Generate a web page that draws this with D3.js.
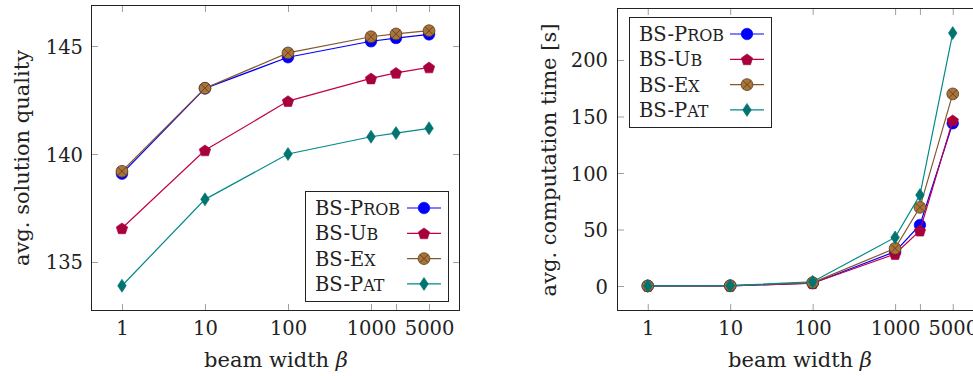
<!DOCTYPE html>
<html><head><meta charset="utf-8">
<script src="https://cdn.jsdelivr.net/npm/d3@7"></script>
<style>
html,body{margin:0;padding:0;background:#fff;}
svg{display:block;}
</style></head>
<body>
<svg id="c" width="973" height="376"></svg>
<script>
// ---- data ----
const beamWidths = [1, 10, 100, 1000, 2000, 5000];
const xTickValues = [1, 10, 100, 1000, 2000, 5000];
const xTickLabels = ["1", "10", "100", "1000", "", "5000"];
const seriesNames = ["BS-Prob", "BS-Ub", "BS-Ex", "BS-Pat"];

const qualityProb = [139.09, 143.04, 144.48, 145.22, 145.37, 145.54];
const qualityUb   = [136.56, 140.17, 142.45, 143.50, 143.76, 144.01];
const qualityEx   = [139.20, 143.05, 144.68, 145.43, 145.56, 145.71];
const qualityPat  = [133.90, 137.90, 140.00, 140.80, 140.97, 141.19];
const qualityTicks = [135, 140, 145];

const timeProb = [0.1, 0.2, 2.5, 30.4, 54.0, 144.0];
const timeUb   = [0.1, 0.2, 2.5, 28.3, 49.0, 146.6];
const timeEx   = [0.1, 0.3, 3.0, 33.3, 69.6, 170.0];
const timePat  = [0.1, 0.3, 3.8, 43.0, 80.5, 223.8];
const timeTicks = [0, 50, 100, 150, 200];

// ---- styles ----
const FONT = "DejaVu Serif";
const FS_TICK = "19.5px";
const FS_TITLE = "21px";
const TXT = "#222";
const styles = [
  {line:"#0000ff", fill:"#0000ff", stroke:"#0000ee", mark:"circle"},
  {line:"#c0004a", fill:"#a8003c", stroke:"#a8003c", mark:"pentagon"},
  {line:"#85572c", fill:"#a8743a", stroke:"#5b3a1a", mark:"otimes"},
  {line:"#008a86", fill:"#007470", stroke:"#007470", mark:"diamond"}
];

const svg = d3.select("#c");

function drawMarker(g, type, st) {
  if (type === "circle") {
    g.append("circle").attr("r", 5.8).attr("fill", st.fill).attr("stroke", st.stroke).attr("stroke-width", 0.6);
  } else if (type === "pentagon") {
    const r = 6;
    const pts = d3.range(5).map(i => {
      const a = -Math.PI/2 + i*2*Math.PI/5;
      return [r*Math.cos(a), r*Math.sin(a)+0.6];
    });
    g.append("polygon").attr("points", pts.map(p=>p.join(",")).join(" "))
      .attr("fill", st.fill).attr("stroke", st.stroke).attr("stroke-width", 0.6);
  } else if (type === "otimes") {
    const r = 5.9;
    g.append("circle").attr("r", r).attr("fill", st.fill).attr("stroke", st.stroke).attr("stroke-width", 0.8);
    const k = r*0.7;
    g.append("path").attr("d", `M${-k},${-k}L${k},${k}M${-k},${k}L${k},${-k}`)
      .attr("stroke", st.stroke).attr("stroke-width", 0.8);
  } else if (type === "diamond") {
    g.append("polygon").attr("points", "0,-6.5 4.3,0 0,6.5 -4.3,0")
      .attr("fill", st.fill).attr("stroke", st.stroke).attr("stroke-width", 0.6);
  }
}

function panel(cfg) {
  const x = d3.scaleLog().domain([Math.pow(10,-0.373), Math.pow(10,4.072)]).range([cfg.left, cfg.right]);
  const y = d3.scaleLinear().domain(cfg.yDomain).range([311, cfg.top]);
  const g = svg.append("g");
  const cid = "clip" + cfg.id;
  svg.append("clipPath").attr("id", cid).append("rect")
    .attr("x", cfg.left).attr("y", cfg.top).attr("width", cfg.right - cfg.left).attr("height", 311 - cfg.top);

  // axes (ticks inward)
  const axB = d3.axisBottom(x).tickValues(xTickValues).tickFormat((d,i)=>xTickLabels[i]).tickSizeInner(-7).tickSizeOuter(0);
  const axT = d3.axisTop(x).tickValues(xTickValues).tickFormat("").tickSizeInner(-7).tickSizeOuter(0);
  const axL = d3.axisLeft(y).tickValues(cfg.yTicks).tickFormat(d3.format("d")).tickSizeInner(-7).tickSizeOuter(0);
  const axR = d3.axisRight(y).tickValues(cfg.yTicks).tickFormat("").tickSizeInner(-7).tickSizeOuter(0);

  const gB = g.append("g").attr("transform", `translate(0,311)`).call(axB);
  const gT = g.append("g").attr("transform", `translate(0,${cfg.top})`).call(axT);
  const gL = g.append("g").attr("transform", `translate(${cfg.left},0)`).call(axL);
  const gR = g.append("g").attr("transform", `translate(${cfg.right},0)`).call(axR);
  [gB,gT,gL,gR].forEach(a => {
    a.select(".domain").remove();
    a.selectAll(".tick line").attr("stroke", "#a0a0a0").attr("stroke-width", 1);
    a.attr("font-size", FS_TICK).attr("font-family", FONT);
  });
  gB.selectAll(".tick text").attr("y", 24).attr("dy", 0).attr("fill", TXT);
  gL.selectAll(".tick text").attr("x", cfg.yLabelX - cfg.left).attr("dy", 7).attr("fill", TXT);

  // frame
  g.append("rect").attr("x", cfg.left + 0.5).attr("y", cfg.top + 0.5)
    .attr("width", cfg.right - cfg.left - 1).attr("height", 311 - cfg.top - 1)
    .attr("fill", "none").attr("stroke", "#222").attr("stroke-width", 1);

  // series
  const plot = g.append("g").attr("clip-path", `url(#${cid})`);
  const line = d3.line().x((d,i)=>x(beamWidths[i])).y(d=>y(d));
  cfg.series.forEach((vals, si) => {
    const st = styles[si];
    plot.append("path").attr("d", line(vals)).attr("fill", "none").attr("stroke", st.line).attr("stroke-width", 1.2);
    vals.forEach((v, i) => {
      const mg = plot.append("g").attr("transform", `translate(${x(beamWidths[i])},${y(v)})`);
      drawMarker(mg, st.mark, st);
    });
  });

  // axis labels
  const xl = g.append("text").attr("x", cfg.xLabelX).attr("y", 367).attr("text-anchor", "middle")
    .attr("font-size", FS_TITLE).attr("font-family", FONT).attr("fill", TXT);
  xl.append("tspan").text("beam width ");
  xl.append("tspan").attr("font-style", "italic").text("β");
  g.append("text").attr("transform", `translate(${cfg.yTitleX},${cfg.yTitleY}) rotate(-90)`)
    .attr("text-anchor", "middle").attr("font-size", FS_TITLE).attr("font-family", FONT).attr("fill", TXT).text(cfg.yTitle);

  // legend
  const L = cfg.legend;
  const lg = g.append("g");
  lg.append("rect").attr("x", L.x + 0.5).attr("y", L.y + 0.5).attr("width", L.w).attr("height", L.h)
    .attr("fill", "#fff").attr("stroke", "#222").attr("stroke-width", 1);
  seriesNames.forEach((name, si) => {
    const cy = L.y + 17 + si * 25.3;
    const st = styles[si];
    const [pre, rest] = name.split("-");
    const t = lg.append("text").attr("x", L.x + 10).attr("y", cy + 7).attr("font-size", "19.5px")
      .attr("font-family", FONT).attr("fill", TXT);
    t.append("tspan").text(pre + "-" + rest[0]);
    t.append("tspan").text(rest.slice(1)).attr("font-size", "22.5px").style("font-variant", "small-caps");
    lg.append("line").attr("x1", L.lx1).attr("x2", L.lx1 + 34).attr("y1", cy).attr("y2", cy)
      .attr("stroke", st.line).attr("stroke-width", 1.2);
    drawMarker(lg.append("g").attr("transform", `translate(${L.lx1 + 17},${cy})`), st.mark, st);
  });
}

panel({
  id: "a", left: 91, right: 460, top: 5,
  yDomain: [132.73, 146.9], yTicks: qualityTicks, yLabelX: 83,
  series: [qualityProb, qualityUb, qualityEx, qualityPat],
  xLabelX: 276, yTitle: "avg. solution quality", yTitleX: 29, yTitleY: 158,
  legend: {x: 305, y: 191, w: 143, h: 110, lx1: 407}
});
panel({
  id: "b", left: 617, right: 983.5, top: 8,
  yDomain: [-22.1, 246], yTicks: timeTicks, yLabelX: 608,
  series: [timeProb, timeUb, timeEx, timePat],
  xLabelX: 800, yTitle: "avg. computation time [s]", yTitleX: 556, yTitleY: 160,
  legend: {x: 629, y: 17, w: 142, h: 110, lx1: 730}
});
</script>
</body></html>
